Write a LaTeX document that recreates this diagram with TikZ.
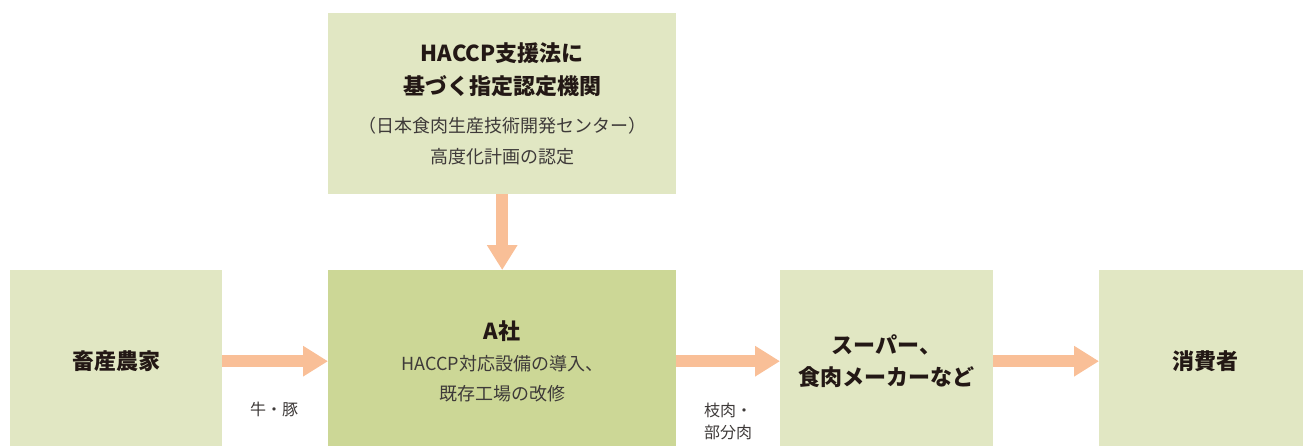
\documentclass[tikz,border=0pt]{standalone}
\usepackage{fontspec}
\setmainfont{Noto Sans CJK JP}
\usetikzlibrary{arrows.meta}
\definecolor{boxlight}{HTML}{E1E7C3}
\definecolor{boxdark}{HTML}{CCD796}
\definecolor{arrowc}{HTML}{F9BF97}
\definecolor{txt}{HTML}{231815}
\definecolor{txtl}{HTML}{3E3A39}
\newcommand\bigt{\fontsize{22}{26}\selectfont\bfseries\color{txt}}
\newcommand\smallt{\fontsize{18}{21}\selectfont\mdseries\color{txtl}}
\tikzset{
  x=1pt, y=-1pt,
  box/.style={rectangle, inner sep=0pt, anchor=north west, align=center, text=txt},
  flow/.style={draw=arrowc, line width=12pt, -{Triangle[length=25pt,width=29pt]}},
  lbl/.style={font=\fontsize{16}{22}\selectfont, text=txtl, align=center},
}
\begin{document}
\begin{tikzpicture}
\useasboundingbox (0,0) rectangle (1303,445);
\node[box, fill=boxlight, minimum width=348pt, minimum height=181pt] (top) at (328,13)
  {\bigt HACCP支援法に\\[11pt]\bigt 基づく指定認定機関\\[19pt]\smallt （日本食肉生産技術開発センター）\\[13pt]\smallt 高度化計画の認定};
\node[box, fill=boxlight, minimum width=212pt, minimum height=182pt] (farm) at (10,270)
  {\bigt 畜産農家};
\node[box, fill=boxdark, minimum width=348pt, minimum height=182pt] (a) at (328,270)
  {\bigt A社\\[13pt]\smallt HACCP対応設備の導入、\\[12pt]\smallt 既存工場の改修};
\node[box, fill=boxlight, minimum width=213pt, minimum height=182pt] (super) at (780,270)
  {\bigt スーパー、\\[10pt]\bigt 食肉メーカーなど};
\node[box, fill=boxlight, minimum width=212pt, minimum height=182pt] (cons) at (1099,270)
  {\bigt 消費者};
\draw[flow] (top.south) -- (a.north);
\draw[flow] (farm.east) -- (a.west);
\draw[flow] (a.east) -- (super.west);
\draw[flow] (super.east) -- (cons.west);
\node[lbl] (l1) at (274,409) {牛・豚};
\node[lbl] (l2) at (728,421) {枝肉・\\部分肉};
\end{tikzpicture}
\end{document}
